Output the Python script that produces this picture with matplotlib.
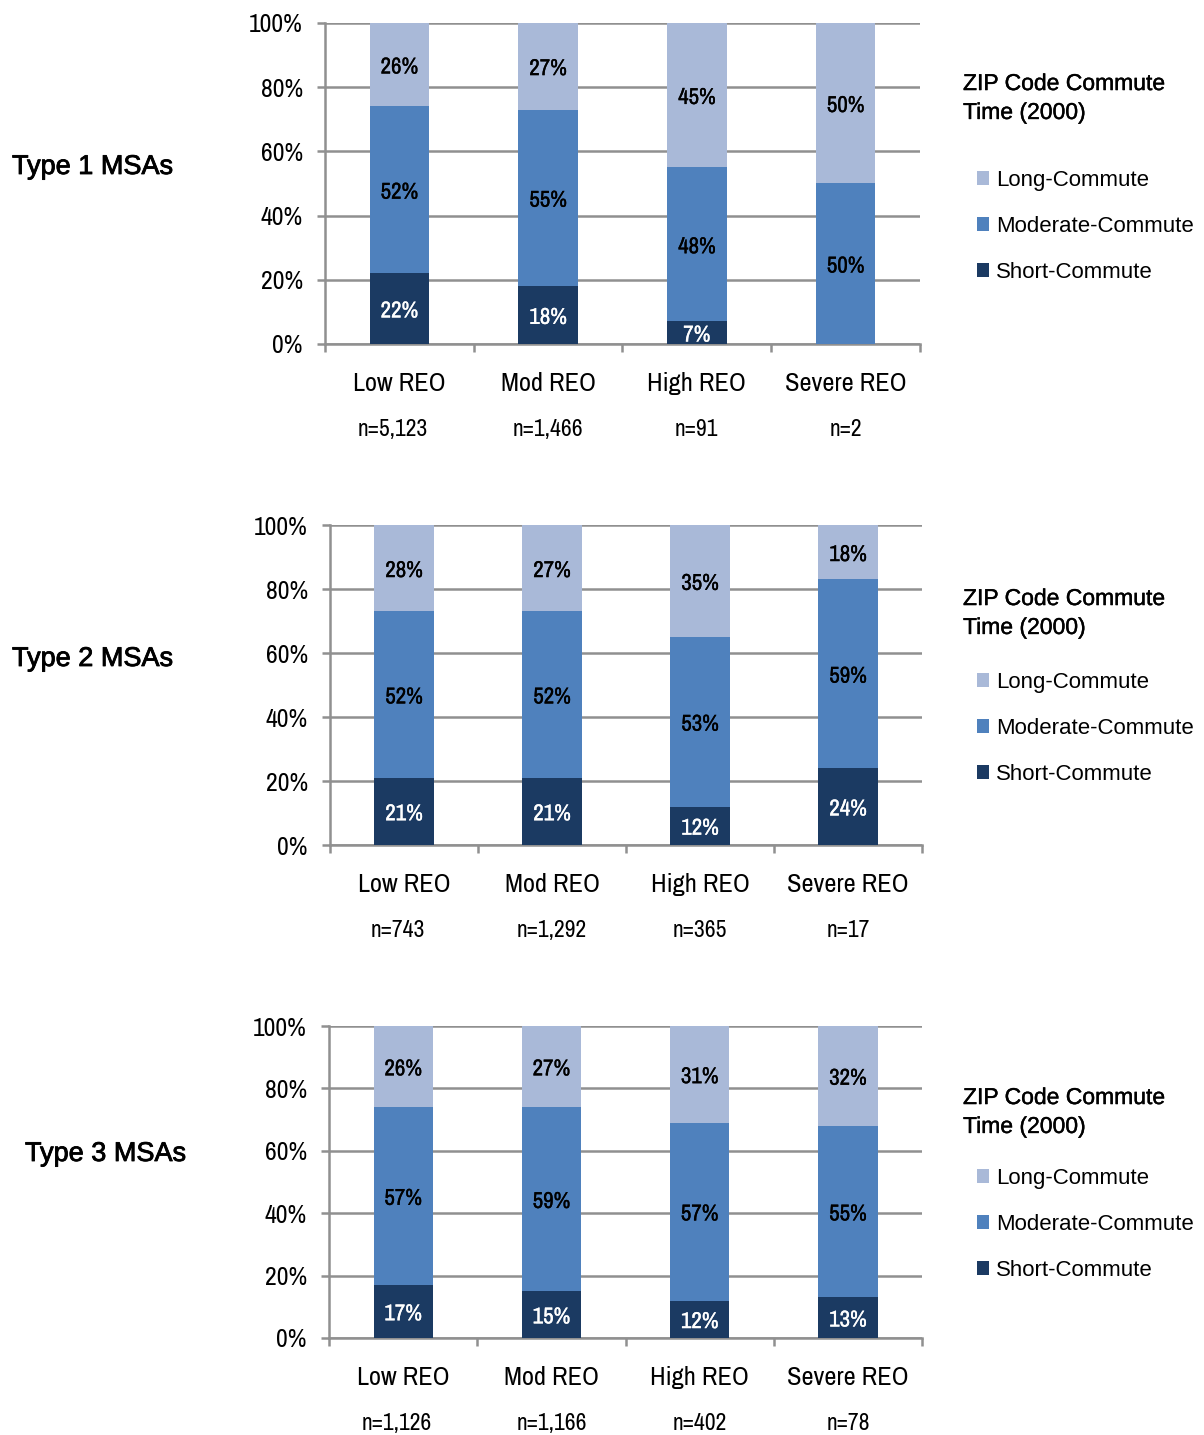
import matplotlib
matplotlib.use("Agg")
import matplotlib.pyplot as plt
import matplotlib.patheffects as pe
from matplotlib.patches import Patch
from matplotlib.ticker import FixedLocator, PercentFormatter

categories = ["Low REO", "Mod REO", "High REO", "Severe REO"]
series_names = ["Short-Commute", "Moderate-Commute", "Long-Commute"]
panel_titles = ["Type 1 MSAs", "Type 2 MSAs", "Type 3 MSAs"]

type1_counts = ["n=5,123", "n=1,466", "n=91", "n=2"]
type1_short = [22, 18, 7, 0]
type1_moderate = [52, 55, 48, 50]
type1_long = [26, 27, 45, 50]

type2_counts = ["n=743", "n=1,292", "n=365", "n=17"]
type2_short = [21, 21, 12, 24]
type2_moderate = [52, 52, 53, 59]
type2_long = [28, 27, 35, 18]

type3_counts = ["n=1,126", "n=1,166", "n=402", "n=78"]
type3_short = [17, 15, 12, 13]
type3_moderate = [57, 59, 57, 55]
type3_long = [26, 27, 31, 32]

colors = {"Short-Commute": "#1b3a62", "Moderate-Commute": "#4f81bd", "Long-Commute": "#a9b9d8"}
text_colors = {"Short-Commute": "white", "Moderate-Commute": "black", "Long-Commute": "black"}

NARROW = "Archivo Narrow"
REGULAR = "Liberation Sans"
GRID = "#909090"

fig = plt.figure(figsize=(12.04, 14.35), dpi=100)

panels = [
    (type1_short, type1_moderate, type1_long, type1_counts, [0.2699, 0.7603, 0.4942, 0.2237], (12, 167), 98, 186),
    (type2_short, type2_moderate, type2_long, type2_counts, [0.2741, 0.4111, 0.4917, 0.2230], (12, 659), 613, 688),
    (type3_short, type3_moderate, type3_long, type3_counts, [0.2733, 0.0676, 0.4925, 0.2174], (25, 1154), 1112, 1184),
]

W, H = 1204, 1435

for idx, (short, moderate, long_, counts, rect, title_xy, leg_title_y, leg_y) in enumerate(panels):
    ax = fig.add_axes(rect)
    x = list(range(len(categories)))
    bottom = [0] * len(categories)
    for name, vals in zip(series_names, [short, moderate, long_]):
        bars = ax.bar(x, vals, width=0.4, bottom=bottom, color=colors[name], zorder=3)
        labels = [f"{v}%" if v else "" for v in vals]
        texts = ax.bar_label(bars, labels=labels, label_type="center", color=text_colors[name],
                             fontsize=16.5, family=NARROW, zorder=4)
        for t in texts:
            t.xyann = (0, -2)
            t.set_path_effects([pe.withStroke(linewidth=0.2, foreground=text_colors[name])])
        bottom = [b + v for b, v in zip(bottom, vals)]

    ax.set_xlim(-0.5, 3.5)
    ax.set_ylim(0, 100)
    ax.set_yticks([0, 20, 40, 60, 80, 100])
    ax.yaxis.set_major_formatter(PercentFormatter(decimals=0))
    ax.grid(axis="y", color=GRID, linewidth=1.8, zorder=0)
    for side in ["top", "right"]:
        ax.spines[side].set_visible(False)
    for side in ["left", "bottom"]:
        ax.spines[side].set_color(GRID)
        ax.spines[side].set_linewidth(1.8)
    ax.tick_params(axis="y", length=6, width=1.8, color=GRID, pad=10, labelsize=18.5)
    for lbl in ax.get_yticklabels():
        lbl.set_family(NARROW)

    ax.set_xticks(x)
    ax.set_xticklabels(categories, family=NARROW, fontsize=19)
    ax.tick_params(axis="x", which="major", length=0, pad=20)
    ax.xaxis.set_minor_locator(FixedLocator([-0.5, 0.5, 1.5, 2.5, 3.5]))
    ax.tick_params(axis="x", which="minor", length=6, width=1.8, color=GRID)
    for i, c in enumerate(counts):
        shift = -0.045 if i == 0 else 0.0
        ax.annotate(c, xy=(i + shift, 0), xycoords=("data", "axes fraction"),
                    xytext=(0, -61.5), textcoords="offset points",
                    ha="center", va="center", family=NARROW, fontsize=17)

    fig.text(title_xy[0] / W, 1 - title_xy[1] / H, panel_titles[idx],
             family=REGULAR, fontsize=19.5, ha="left", va="center",
             path_effects=[pe.withStroke(linewidth=0.6, foreground="black")])

    fig.text(963 / W, 1 - leg_title_y / H, "ZIP Code Commute\nTime (2000)",
             family=REGULAR, fontsize=16.5, ha="left", va="center", linespacing=1.33,
             path_effects=[pe.withStroke(linewidth=0.3, foreground="black")])
    handles = [Patch(facecolor=colors[n], edgecolor="none") for n in reversed(series_names)]
    fig.legend(handles, list(reversed(series_names)), loc="upper left",
               bbox_to_anchor=(977 / W, 1 - (leg_y - 16) / H), frameon=False,
               prop={"family": REGULAR, "size": 16}, handlelength=0.55, handleheight=0.55,
               handletextpad=0.3, labelspacing=1.12, borderpad=0, borderaxespad=0)

fig.savefig("out.png", dpi=100)
